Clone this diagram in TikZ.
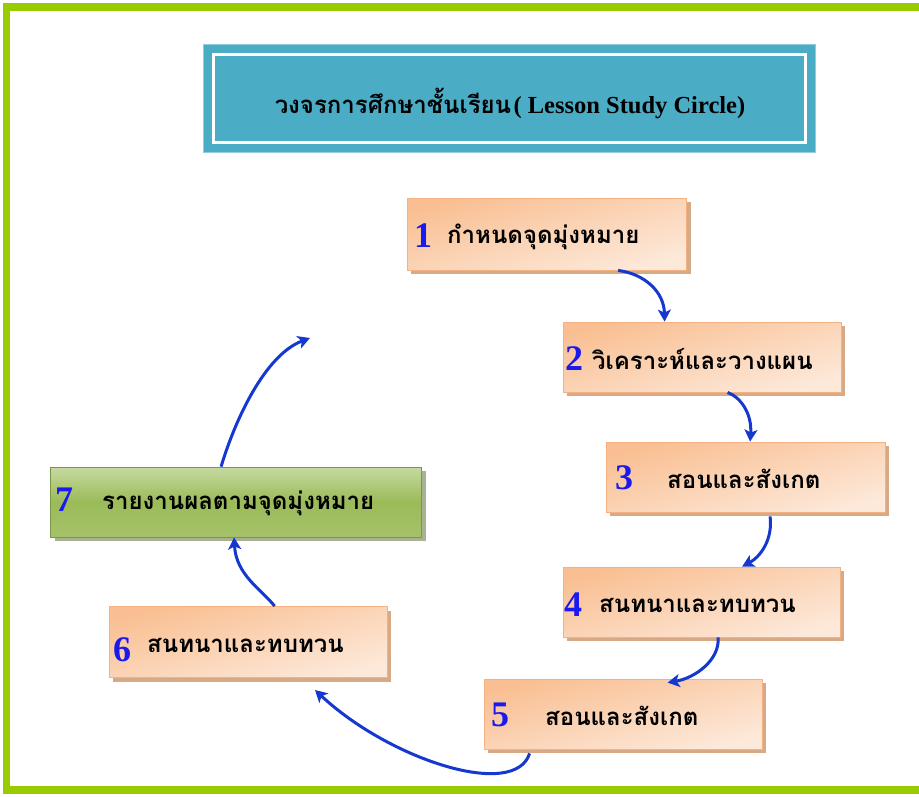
\documentclass[tikz,border=0pt]{standalone}
\usepackage{fontspec}
\setmainfont{Liberation Serif}
\newfontfamily\thai[Script=Thai]{Loma}
\usetikzlibrary{arrows.meta,calc}
\definecolor{frameg}{HTML}{99CC00}
\definecolor{teal}{HTML}{4BACC6}
\definecolor{tealedge}{HTML}{92CDDC}
\definecolor{peachdark}{HTML}{F9BF92}
\definecolor{peachlight}{HTML}{FDE9DA}
\definecolor{peachedge}{HTML}{F4B183}
\definecolor{peachshadow}{HTML}{D8A985}
\definecolor{greenlight}{HTML}{C6D9A0}
\definecolor{greendark}{HTML}{9BBB59}
\definecolor{greenshadow}{HTML}{6E7F4A}
\definecolor{arrowblue}{HTML}{1438D0}
\definecolor{numblue}{HTML}{1A1AF0}
\tikzset{
  peachbox/.style={draw=peachedge,line width=0.8pt,shading=axis,top color=peachdark,bottom color=peachlight,shading angle=15},
  greenbox/.style={draw=greendark!80!black,line width=0.8pt,top color=greenlight,bottom color=greendark!90!white,middle color=greendark},
  shadowp/.style={fill=peachshadow},
  shadowg/.style={fill=greenshadow!60},
  numlbl/.style={anchor=west,inner sep=0pt,text=numblue,font=\bfseries\fontsize{36}{40}\selectfont},
  thlbl/.style={anchor=west,inner sep=0pt,font=\thai\bfseries\fontsize{24}{28}\selectfont},
  flow/.style={draw=arrowblue,line width=3pt,-{Stealth[length=12pt,width=13pt,inset=3pt]}},
  framebar/.style={fill=frameg}
}
\begin{document}
\begin{tikzpicture}[x=1pt,y=-1pt]
\useasboundingbox (0,0) rectangle (919,796);
% frame
\fill[framebar] (3,3) rectangle (919,11);
\fill[framebar] (3,3) rectangle (10,794);
\fill[framebar] (3,786) rectangle (919,794);
% title
\node[draw=tealedge,line width=1pt,fill=teal,minimum width=612pt,minimum height=108pt,inner sep=0pt] (title) at (509,98) {};
\node[draw=white,line width=3pt,minimum width=592pt,minimum height=88pt,inner sep=0pt] (titlein) at (title.center) {};
\node[inner sep=0pt] (titletxt) at (510,103) {{\thai\bfseries\fontsize{24}{28}\selectfont วงจรการศึกษาชั้นเรียน}\ {\bfseries\fontsize{24.5}{28}\selectfont( Lesson Study Circle)}};
% shadows
\fill[shadowp] (411,202) rectangle (691,274);
\fill[shadowp] (567,326) rectangle (845,396);
\fill[shadowp] (610,446) rectangle (889,516);
\fill[shadowp] (567,571) rectangle (844,641);
\fill[shadowp] (488,683) rectangle (766,753);
\fill[shadowp] (113,611) rectangle (391,682);
\fill[shadowg] (55,471) rectangle (426,541);
% boxes
\node[peachbox,minimum width=279pt,minimum height=72pt,inner sep=0pt] (b1) at (547,234) {};
\node[peachbox,minimum width=278pt,minimum height=70pt,inner sep=0pt] (b2) at (702,357) {};
\node[peachbox,minimum width=279pt,minimum height=70pt,inner sep=0pt] (b3) at (746,477) {};
\node[peachbox,minimum width=277pt,minimum height=70pt,inner sep=0pt] (b4) at (702,602) {};
\node[peachbox,minimum width=278pt,minimum height=70pt,inner sep=0pt] (b5) at (623,714) {};
\node[peachbox,minimum width=278pt,minimum height=71pt,inner sep=0pt] (b6) at (248,642) {};
\node[greenbox,minimum width=371pt,minimum height=70pt,inner sep=0pt] (b7) at (236,502) {};
% labels
\node[numlbl] (n1) at (414,236) {1};
\node[thlbl] (t1) at (447,237) {กำหนดจุดมุ่งหมาย};
\node[numlbl] (n2) at (565,359) {2};
\node[thlbl] (t2) at (592,359) {วิเคราะห์และวางแผน};
\node[numlbl] (n3) at (615,478) {3};
\node[thlbl] (t3) at (667,479) {สอนและสังเกต};
\node[numlbl] (n4) at (564,605) {4};
\node[thlbl] (t4) at (599,605) {สนทนาและทบทวน};
\node[numlbl] (n5) at (491,715) {5};
\node[thlbl] (t5) at (545,716) {สอนและสังเกต};
\node[numlbl] (n6) at (113,650) {6};
\node[thlbl] (t6) at (147,645) {สนทนาและทบทวน};
\node[numlbl] (n7) at (55,500) {7};
\node[thlbl] (t7) at (102,503) {รายงานผลตามจุดมุ่งหมาย};
% arrow end points
\coordinate (a1s) at ($(b1.south west)+(211,0)$);
\coordinate (a1e) at ($(b2.north west)+(102,0)$);
\coordinate (a2s) at ($(b2.south west)+(165,0)$);
\coordinate (a2e) at ($(b3.north west)+(144,0)$);
\coordinate (a3s) at ($(b3.south west)+(164,4)$);
\coordinate (a3e) at ($(b4.north west)+(179,0)$);
\coordinate (a4s) at ($(b4.south west)+(155,0)$);
\coordinate (a4e) at ($(b5.north west)+(184,4)$);
\coordinate (a5s) at ($(b5.south west)+(46,4)$);
\coordinate (a5e) at (315,690);
\coordinate (a6s) at ($(b6.north west)+(166,0)$);
\coordinate (a6e) at ($(b7.south west)+(184,0)$);
\coordinate (a7s) at ($(b7.north west)+(171,0)$);
\coordinate (a7e) at (310,338);
% arrows
\draw[flow] (a1s) .. controls (645,274) and (664,292) .. (a1e);
\draw[flow] (a2s) .. controls (742,398) and (752,415) .. (a2e);
\draw[flow] (a3s) .. controls (773,540) and (760,557) .. (a3e);
\draw[flow] (a4s) .. controls (720,660) and (695,678) .. (a4e);
\draw[flow] (a5s) .. controls (515,800) and (390,760) .. (a5e);
\draw[flow] (a6s) .. controls (262,590) and (236,575) .. (a6e);
\draw[flow] (a7s) .. controls (235,420) and (265,355) .. (a7e);
\end{tikzpicture}
\end{document}
